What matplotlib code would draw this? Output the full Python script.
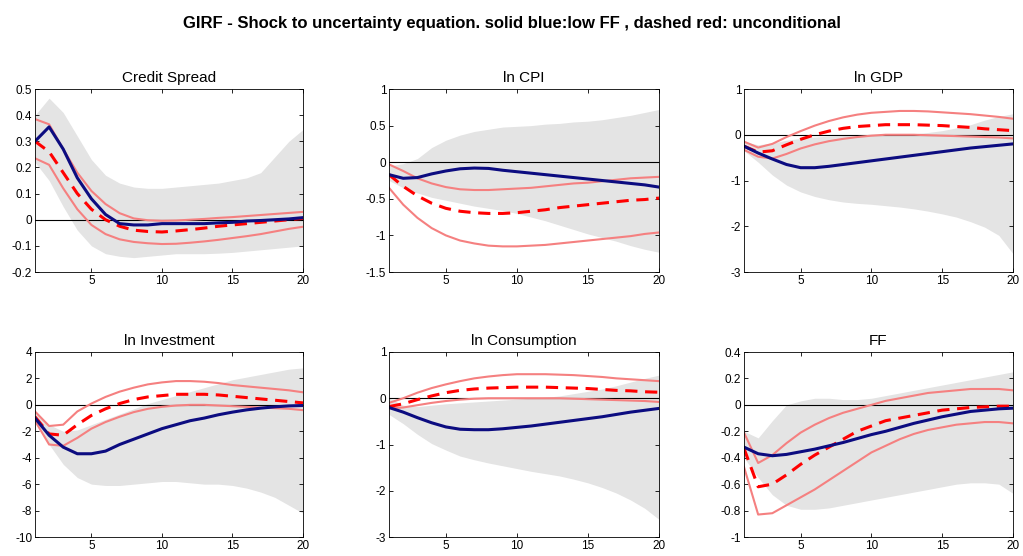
import numpy as np
import matplotlib
matplotlib.use("Agg")
import matplotlib.pyplot as plt

plt.rcParams['font.family'] = ['Liberation Sans', 'DejaVu Sans']

# horizon
steps = np.arange(1, 21)

# Credit Spread
cs_blue = [0.30, 0.355, 0.27, 0.16, 0.08, 0.02, -0.015, -0.02, -0.02, -0.015,
           -0.015, -0.015, -0.015, -0.012, -0.01, -0.005, -0.003, 0.0, 0.003, 0.008]
cs_red = [0.30, 0.26, 0.18, 0.10, 0.04, 0.0, -0.025, -0.04, -0.045, -0.047,
          -0.043, -0.038, -0.032, -0.025, -0.02, -0.015, -0.01, -0.005, 0.0, 0.005]
cs_red_hi = [0.385, 0.365, 0.27, 0.18, 0.11, 0.06, 0.025, 0.005, -0.002, -0.004,
             -0.003, 0.0, 0.003, 0.007, 0.01, 0.014, 0.018, 0.022, 0.026, 0.03]
cs_red_lo = [0.235, 0.21, 0.12, 0.04, -0.02, -0.055, -0.075, -0.085, -0.09, -0.093,
             -0.092, -0.088, -0.083, -0.077, -0.07, -0.063, -0.055, -0.045, -0.035, -0.027]
cs_gray_hi = [0.40, 0.465, 0.41, 0.32, 0.23, 0.17, 0.14, 0.125, 0.12, 0.12,
              0.125, 0.13, 0.135, 0.14, 0.15, 0.16, 0.18, 0.24, 0.30, 0.345]
cs_gray_lo = [0.22, 0.15, 0.05, -0.04, -0.10, -0.13, -0.14, -0.145, -0.14, -0.135,
              -0.13, -0.13, -0.13, -0.128, -0.125, -0.12, -0.115, -0.11, -0.105, -0.10]

# ln CPI
cpi_blue = [-0.17, -0.22, -0.21, -0.16, -0.12, -0.09, -0.08, -0.085, -0.11, -0.13,
            -0.15, -0.17, -0.19, -0.21, -0.23, -0.25, -0.27, -0.29, -0.31, -0.34]
cpi_red = [-0.17, -0.33, -0.46, -0.56, -0.63, -0.67, -0.69, -0.70, -0.70, -0.69,
           -0.67, -0.65, -0.62, -0.60, -0.58, -0.56, -0.54, -0.52, -0.51, -0.49]
cpi_red_hi = [-0.03, -0.12, -0.22, -0.29, -0.34, -0.37, -0.38, -0.38, -0.37, -0.36,
              -0.35, -0.33, -0.31, -0.29, -0.28, -0.26, -0.24, -0.22, -0.21, -0.20]
cpi_red_lo = [-0.35, -0.58, -0.76, -0.90, -1.00, -1.07, -1.11, -1.14, -1.15, -1.15,
              -1.14, -1.13, -1.11, -1.09, -1.07, -1.05, -1.03, -1.01, -0.98, -0.96]
cpi_gray_hi = [-0.05, -0.02, 0.05, 0.20, 0.30, 0.37, 0.42, 0.45, 0.48, 0.49,
               0.50, 0.52, 0.53, 0.55, 0.56, 0.58, 0.61, 0.64, 0.68, 0.72]
cpi_gray_lo = [-0.25, -0.35, -0.42, -0.48, -0.52, -0.56, -0.60, -0.63, -0.66, -0.70,
               -0.75, -0.80, -0.86, -0.92, -0.98, -1.03, -1.08, -1.14, -1.19, -1.23]

# ln GDP
gdp_blue = [-0.25, -0.40, -0.53, -0.65, -0.72, -0.72, -0.69, -0.65, -0.61, -0.57,
            -0.53, -0.49, -0.45, -0.41, -0.37, -0.33, -0.29, -0.26, -0.23, -0.20]
gdp_red = [-0.25, -0.38, -0.35, -0.22, -0.10, 0.0, 0.08, 0.14, 0.18, 0.20,
           0.22, 0.22, 0.22, 0.21, 0.20, 0.18, 0.16, 0.13, 0.11, 0.09]
gdp_red_hi = [-0.15, -0.28, -0.20, -0.05, 0.08, 0.20, 0.30, 0.38, 0.44, 0.48,
              0.50, 0.52, 0.52, 0.51, 0.49, 0.47, 0.45, 0.42, 0.39, 0.35]
gdp_red_lo = [-0.33, -0.48, -0.52, -0.42, -0.30, -0.21, -0.14, -0.09, -0.05, -0.02,
              0.0, 0.0, 0.0, -0.01, -0.02, -0.03, -0.04, -0.05, -0.06, -0.08]
gdp_gray_hi = [-0.15, -0.22, -0.18, -0.12, -0.08, -0.05, -0.03, -0.02, -0.01, 0.0,
               0.0, 0.0, 0.02, 0.05, 0.09, 0.15, 0.22, 0.32, 0.40, 0.46]
gdp_gray_lo = [-0.35, -0.60, -0.88, -1.10, -1.25, -1.35, -1.42, -1.47, -1.50, -1.52,
               -1.55, -1.58, -1.62, -1.67, -1.73, -1.80, -1.90, -2.02, -2.20, -2.60]

# ln Investment
inv_blue = [-1.0, -2.3, -3.2, -3.7, -3.7, -3.5, -3.0, -2.6, -2.2, -1.8,
            -1.5, -1.2, -1.0, -0.75, -0.55, -0.38, -0.25, -0.15, -0.08, -0.05]
inv_red = [-0.9, -2.2, -2.3, -1.5, -0.8, -0.3, 0.1, 0.4, 0.6, 0.7,
           0.8, 0.8, 0.8, 0.75, 0.65, 0.55, 0.45, 0.35, 0.25, 0.15]
inv_red_hi = [-0.5, -1.6, -1.5, -0.5, 0.1, 0.6, 1.0, 1.3, 1.55, 1.7,
              1.8, 1.8, 1.75, 1.65, 1.5, 1.4, 1.3, 1.2, 1.1, 0.95]
inv_red_lo = [-1.2, -3.0, -3.1, -2.5, -1.8, -1.3, -0.9, -0.55, -0.3, -0.15,
              -0.05, 0.0, 0.0, -0.05, -0.1, -0.15, -0.2, -0.25, -0.3, -0.4]
inv_gray_hi = [-0.6, -1.5, -2.0, -1.9, -1.5, -1.1, -0.7, -0.3, 0.1, 0.4,
               0.7, 1.0, 1.3, 1.6, 1.9, 2.1, 2.3, 2.5, 2.7, 2.8]
inv_gray_lo = [-1.2, -3.0, -4.5, -5.5, -6.0, -6.1, -6.1, -6.0, -5.9, -5.8,
               -5.8, -5.9, -6.0, -6.0, -6.1, -6.3, -6.6, -7.0, -7.6, -8.2]

# ln Consumption
con_blue = [-0.20, -0.30, -0.42, -0.53, -0.62, -0.67, -0.68, -0.68, -0.66, -0.63,
            -0.60, -0.56, -0.52, -0.48, -0.44, -0.40, -0.35, -0.30, -0.26, -0.22]
con_red = [-0.18, -0.12, -0.03, 0.05, 0.12, 0.17, 0.20, 0.22, 0.23, 0.24,
           0.24, 0.24, 0.23, 0.22, 0.21, 0.19, 0.17, 0.16, 0.14, 0.13]
con_red_hi = [-0.10, 0.0, 0.12, 0.22, 0.30, 0.37, 0.43, 0.47, 0.50, 0.52,
              0.52, 0.52, 0.51, 0.50, 0.48, 0.46, 0.43, 0.41, 0.39, 0.37]
con_red_lo = [-0.22, -0.20, -0.15, -0.10, -0.06, -0.03, -0.01, 0.0, 0.0, 0.0,
              0.0, 0.0, 0.0, -0.01, -0.02, -0.03, -0.04, -0.05, -0.06, -0.08]
con_gray_hi = [0.0, -0.15, -0.18, -0.15, -0.12, -0.10, -0.08, -0.06, -0.04, -0.02,
               0.0, 0.02, 0.05, 0.10, 0.15, 0.20, 0.27, 0.35, 0.43, 0.50]
con_gray_lo = [-0.35, -0.55, -0.78, -0.98, -1.12, -1.25, -1.33, -1.40, -1.46, -1.52,
               -1.58, -1.63, -1.68, -1.75, -1.83, -1.93, -2.05, -2.20, -2.38, -2.62]

# FF
ff_blue = [-0.32, -0.37, -0.385, -0.375, -0.355, -0.335, -0.31, -0.285, -0.255, -0.225,
           -0.20, -0.17, -0.14, -0.115, -0.09, -0.07, -0.05, -0.04, -0.03, -0.025]
ff_red = [-0.33, -0.62, -0.60, -0.53, -0.45, -0.38, -0.32, -0.26, -0.20, -0.16,
          -0.12, -0.10, -0.08, -0.06, -0.04, -0.03, -0.02, -0.015, -0.01, -0.01]
ff_red_hi = [-0.21, -0.44, -0.38, -0.29, -0.21, -0.15, -0.10, -0.06, -0.03, 0.0,
             0.03, 0.05, 0.07, 0.09, 0.10, 0.11, 0.12, 0.12, 0.12, 0.11]
ff_red_lo = [-0.47, -0.83, -0.82, -0.76, -0.70, -0.64, -0.57, -0.50, -0.43, -0.36,
             -0.31, -0.26, -0.22, -0.19, -0.17, -0.15, -0.14, -0.13, -0.13, -0.14]
ff_gray_hi = [-0.20, -0.25, -0.12, 0.0, 0.03, 0.05, 0.05, 0.04, 0.04, 0.05,
              0.07, 0.09, 0.11, 0.13, 0.15, 0.17, 0.19, 0.21, 0.23, 0.25]
ff_gray_lo = [-0.40, -0.55, -0.68, -0.76, -0.79, -0.79, -0.78, -0.76, -0.74, -0.72,
              -0.70, -0.68, -0.66, -0.64, -0.62, -0.60, -0.59, -0.59, -0.60, -0.67]

panels = [
    ("Credit Spread", cs_blue, cs_red, cs_red_hi, cs_red_lo, cs_gray_hi, cs_gray_lo,
     (-0.2, 0.5), np.arange(-0.2, 0.51, 0.1)),
    ("ln CPI", cpi_blue, cpi_red, cpi_red_hi, cpi_red_lo, cpi_gray_hi, cpi_gray_lo,
     (-1.5, 1), np.arange(-1.5, 1.01, 0.5)),
    ("ln GDP", gdp_blue, gdp_red, gdp_red_hi, gdp_red_lo, gdp_gray_hi, gdp_gray_lo,
     (-3, 1), np.arange(-3, 1.01, 1)),
    ("ln Investment", inv_blue, inv_red, inv_red_hi, inv_red_lo, inv_gray_hi, inv_gray_lo,
     (-10, 4), np.arange(-10, 4.01, 2)),
    ("ln Consumption", con_blue, con_red, con_red_hi, con_red_lo, con_gray_hi, con_gray_lo,
     (-3, 1), np.arange(-3, 1.01, 1)),
    ("FF", ff_blue, ff_red, ff_red_hi, ff_red_lo, ff_gray_hi, ff_gray_lo,
     (-1, 0.4), np.arange(-1, 0.41, 0.2)),
]

W, H = 1023, 556
fig = plt.figure(figsize=(W / 100, H / 100), dpi=100)

# pixel boxes of the axes (left, top, right, bottom)
col_x = [(35, 303), (389, 659), (744, 1013)]
row_y = [(89, 272), (352, 537)]


def fmt(v):
    v = round(v, 6)
    if abs(v) < 1e-9:
        return "0"
    return "%g" % v


for i, (title, blue, red, rhi, rlo, ghi, glo, ylim, yt) in enumerate(panels):
    r, c = divmod(i, 3)
    x0, x1 = col_x[c]
    y0, y1 = row_y[r]
    ax = fig.add_axes([x0 / W, 1 - y1 / H, (x1 - x0) / W, (y1 - y0) / H])
    ax.fill_between(steps, glo, ghi, color="#e4e4e4", lw=0)
    ax.axhline(0, color="black", lw=0.8)
    ax.plot(steps, rhi, color="#f58080", lw=1.5)
    ax.plot(steps, rlo, color="#f58080", lw=1.5)
    ax.plot(steps, red, color="red", lw=2.2, ls=(0, (4, 2.5)))
    ax.plot(steps, blue, color="#0c0c80", lw=2.2)
    ax.set_xlim(1, 20)
    ax.set_ylim(*ylim)
    ax.set_xticks([5, 10, 15, 20])
    ax.set_yticks(yt)
    ax.set_yticklabels([fmt(v) for v in yt])
    ax.tick_params(direction="in", top=True, right=True, labelsize=8.5,
                   length=3, width=0.6, pad=2)
    for sp in ax.spines.values():
        sp.set_linewidth(0.6)
    ax.set_title(title, fontsize=11, pad=5)

fig.suptitle("GIRF - Shock to uncertainty equation. solid blue:low FF , dashed red: unconditional",
             fontsize=12, fontweight="bold", y=0.972)

fig.savefig("out.png", dpi=100)
